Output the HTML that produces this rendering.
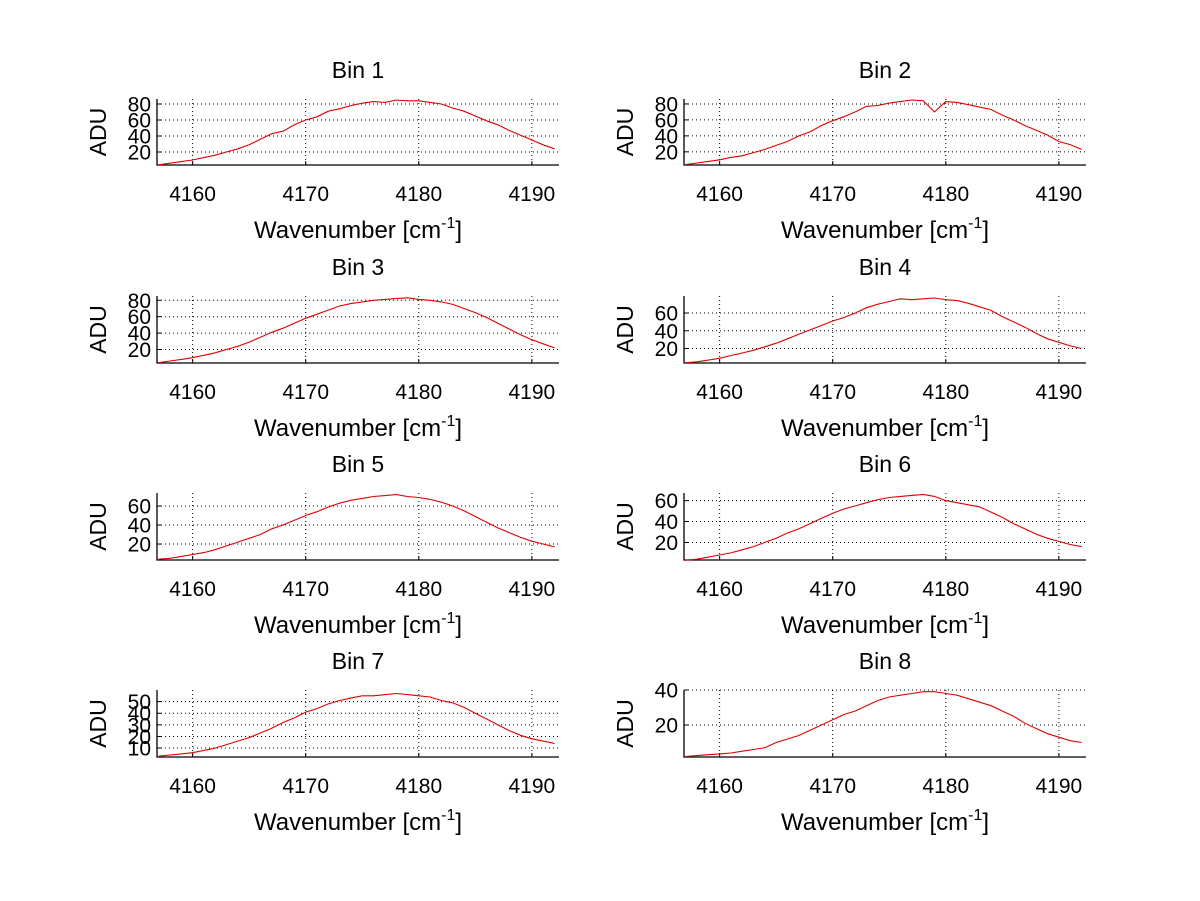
<!DOCTYPE html>
<html><head><meta charset="utf-8"><style>
html,body{margin:0;padding:0;background:#fff;}
svg{display:block;font-family:"Liberation Sans",Arial,sans-serif;}
</style></head>
<body>
<svg id="fig" width="1200" height="901" viewBox="0 0 1200 901" xmlns="http://www.w3.org/2000/svg"></svg>
<script>
const wavenumbers=[4157,4158,4159,4160,4161,4162,4163,4164,4165,4166,4167,4168,4169,4170,4171,4172,4173,4174,4175,4176,4177,4178,4179,4180,4181,4182,4183,4184,4185,4186,4187,4188,4189,4190,4191,4192];
const xTicks=[4160,4170,4180,4190];
const bin1=[4,6,8,10,13,16,20,24,29,36,43,46,54,60,64,71,74,78,81,83,82,85,84,84,82,80,75,71,65,59,54,47,41,35,29,24];
const bin2=[4,6,8,10,13,15,19,23,28,33,40,45,53,59,64,70,77,78,81,83,85,84,70,83,82,79,76,73,66,60,53,47,41,33,29,23];
const bin3=[4,6,8,10,13,16,20,24,29,35,41,46,52,58,63,68,73,76,78,80,81,82,83,81,80,78,75,70,65,59,52,45,38,32,27,22];
const bin4=[4,5,7,9,12,15,18,22,26,31,36,41,46,51,55,60,66,70,73,76,75,76,77,75,74,71,67,63,56,50,44,37,31,27,23,20];
const bin5=[4,5,7,9,11,14,18,22,26,30,36,40,45,50,54,59,63,66,68,70,71,72,70,69,67,64,60,55,49,43,37,32,27,23,20,17];
const bin6=[3,4,6,8,10,13,16,20,24,29,33,38,43,48,52,55,58,61,63,64,65,66,64,60,58,56,54,49,44,38,33,28,24,21,18,16];
const bin7=[3,4,5,6,8,10,13,16,19,23,27,32,36,41,44,48,51,53,55,55,56,57,56,55,54,51,49,45,40,35,30,25,21,18,16,14];
const bin8=[2,2.5,3,3.5,4,5,6,7,10,12,14,17,20,23,26,28,31,34,36,37,38,39,39,38,37,35,33,31,28,25,21,18,15,13,11,10];
const series=[bin1,bin2,bin3,bin4,bin5,bin6,bin7,bin8];
const yTicks=[[20,40,60,80],[20,40,60,80],[20,40,60,80],[20,40,60],[20,40,60],[20,40,60],[10,20,30,40,50],[20,40]];
const yRanges=[[3.75,86.25],[3.5,86.2],[3.6,85.2],[3.7,79.2],[3.2,73.7],[3.2,67.3],[2.3,60],[1.7,40]];
const xRange=[4156.85,4192.4];

const NS="http://www.w3.org/2000/svg";
const svg=document.getElementById('fig');
function mk(tag,attrs,parent){const e=document.createElementNS(NS,tag);for(const k in attrs)e.setAttribute(k,attrs[k]);(parent||svg).appendChild(e);return e;}
const colsX=[[157,559],[684,1086]];
const rowsY=[[99,165],[296,363],[493,560],[690,757]];
for(let i=0;i<8;i++){
  const c=i%2,r=Math.floor(i/2);
  const [x0,x1]=colsX[c],[y0,y1]=rowsY[r];
  const [ymin,ymax]=yRanges[i];
  const sx=v=>x0+(v-xRange[0])/(xRange[1]-xRange[0])*(x1-x0);
  const sy=v=>y1-(v-ymin)/(ymax-ymin)*(y1-y0);
  const g=mk('g',{});
  
  
  xTicks.forEach(t=>{
    const l=mk('line',{x1:sx(t),x2:sx(t),y1:y0,y2:y1,stroke:'#000','stroke-width':1,'stroke-dasharray':'1,3'},g);
    
    
    mk('line',{x1:sx(t),x2:sx(t),y1:y1,y2:y1-4,stroke:'#000'},g);
    const tx=mk('text',{x:sx(t),y:y1+36,'font-size':21,'text-anchor':'middle'},g);
    tx.textContent=t;
    
    
  });
  yTicks[i].forEach(t=>{
    const l=mk('line',{x1:x0,x2:x1,y1:sy(t),y2:sy(t),stroke:'#000','stroke-width':1,'stroke-dasharray':'1,3'},g);
    
    
    mk('line',{x1:x0,x2:x0+4,y1:sy(t),y2:sy(t),stroke:'#000'},g);
    const tx=mk('text',{x:x0-6,y:sy(t)+7.5,'font-size':21,'text-anchor':'end'},g);
    tx.textContent=t;
    
    
  });
  const ax=mk('path',{d:`M${x0},${y0}V${y1}H${x1}`,stroke:'#000',fill:'none','stroke-width':1.3},g);
  
  
  const d=series[i].map((v,k)=>(k?'L':'M')+sx(wavenumbers[k]).toFixed(1)+','+sy(v).toFixed(1)).join('');
  const p=mk('path',{d:d,stroke:'#e00000',fill:'none','stroke-width':1.1},g);
  
  
  const tt=mk('text',{x:(x0+x1)/2,y:y0-21,'font-size':23,'text-anchor':'middle'},g);
  tt.textContent='Bin '+(i+1);
  
  
  const xl=mk('text',{x:(x0+x1)/2,y:y1+73,'font-size':24,'text-anchor':'middle'},g);
  
  
  xl.appendChild(document.createTextNode('Wavenumber [cm'));
  const sup=mk('tspan',{dy:-10,'font-size':16},xl);sup.textContent='-1';
  const cl=mk('tspan',{dy:10},xl);cl.textContent=']';
  const yc=(y0+y1)/2;
  const yl=mk('text',{x:x0-50,y:yc,'font-size':23,'text-anchor':'middle',transform:`rotate(-90 ${x0-50} ${yc}) translate(0 -1)`},g);
  yl.textContent='ADU';
  
  
}
</script>
</body></html>
